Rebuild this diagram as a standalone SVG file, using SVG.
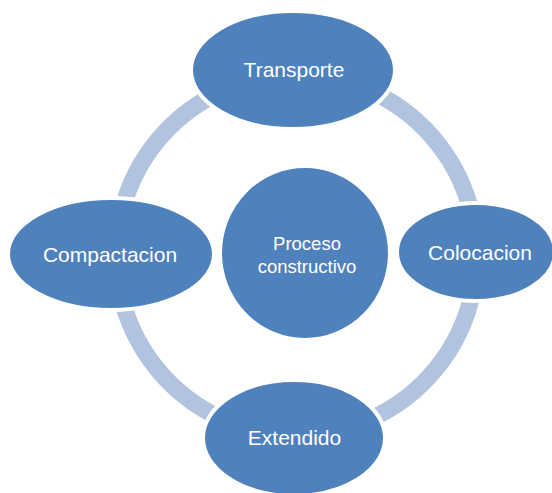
<svg xmlns="http://www.w3.org/2000/svg" width="552" height="493" viewBox="0 0 552 493">
<style>
.arc{fill:none;stroke:#B1C3DF;stroke-width:17;stroke-linecap:butt}
.node{fill:#4F81BD;stroke:#FFFFFF;stroke-width:4}
.lbl{font-family:"Liberation Sans",Arial,sans-serif;font-size:21px;fill:#FFFFFF;text-anchor:middle}
.sm{font-size:18.5px}
</style>
<rect width="552" height="493" fill="#FFFFFF"/>
<g id="connectors">
<path class="arc" d="M122.6,208.4 A180,180 0 0 1 214.8,94.6"/>
<path class="arc" d="M378.2,94.6 A180,180 0 0 1 471.9,214.5"/>
<path class="arc" d="M472.6,292.4 A180,180 0 0 1 369.7,419.4"/>
<path class="arc" d="M220.4,418.1 A180,180 0 0 1 122.6,301.6"/>
</g>
<g id="center">
<ellipse class="node" cx="305" cy="253" rx="85" ry="87"/>
<text class="lbl sm" x="307" y="250">Proceso</text>
<text class="lbl sm" x="307" y="273">constructivo</text>
</g>
<g id="transporte">
<ellipse class="node" cx="293" cy="70" rx="102" ry="59"/>
<text class="lbl" x="294" y="77">Transporte</text>
</g>
<g id="colocacion">
<ellipse class="node" cx="476" cy="252" rx="79" ry="49"/>
<text class="lbl" x="480" y="260">Colocacion</text>
</g>
<g id="extendido">
<ellipse class="node" cx="294" cy="438" rx="91" ry="58"/>
<text class="lbl" x="294.5" y="445">Extendido</text>
</g>
<g id="compactacion">
<ellipse class="node" cx="111" cy="254" rx="103" ry="56"/>
<text class="lbl" x="110" y="262">Compactacion</text>
</g>
</svg>
